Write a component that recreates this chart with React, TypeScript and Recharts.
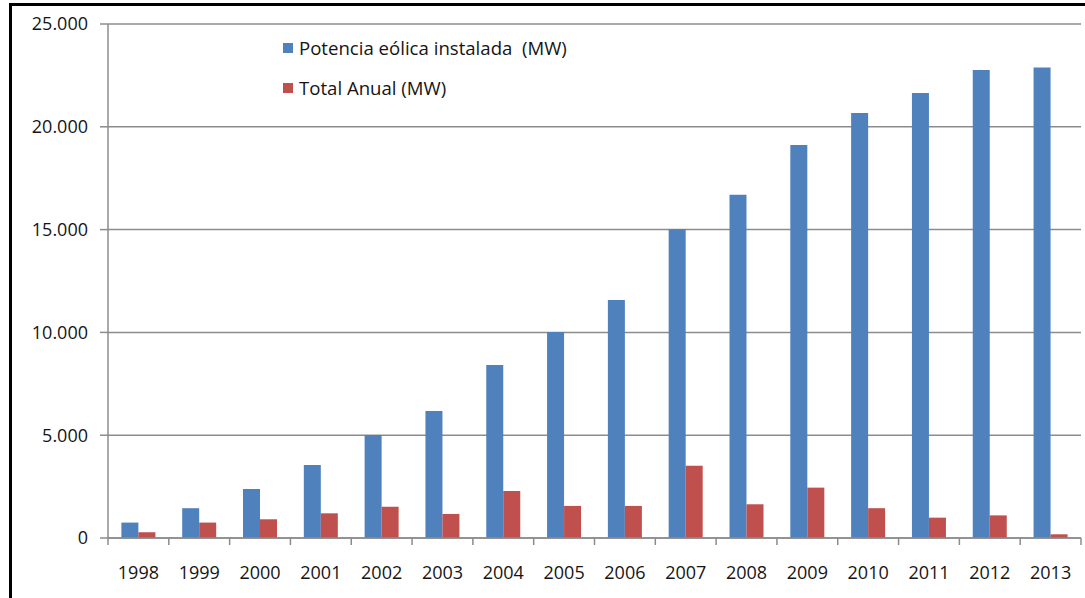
import React from 'react';
import { Bar, BarChart, CartesianGrid, Legend, XAxis, YAxis } from 'recharts';

// Años y valores (MW)
const YEARS = ['1998', '1999', '2000', '2001', '2002', '2003', '2004', '2005', '2006', '2007', '2008', '2009', '2010', '2011', '2012', '2013'];
const POTENCIA = [750, 1450, 2380, 3550, 5010, 6180, 8410, 10020, 11580, 15020, 16690, 19120, 20670, 21650, 22760, 22890];
const TOTAL_ANUAL = [280, 750, 910, 1200, 1520, 1170, 2290, 1560, 1560, 3520, 1640, 2450, 1450, 990, 1100, 180];
const Y_TICKS = [0, 5000, 10000, 15000, 20000, 25000];

const BLUE = '#4F81BD';
const RED = '#C0504D';
const FONT = '"Open Sans", sans-serif';
const TEXT = '#151515';

const data = YEARS.map((year, i) => ({
  year,
  potencia: POTENCIA[i],
  total: TOTAL_ANUAL[i],
}));

const formatThousands = (v: number) => String(v).replace(/\B(?=(\d{3})+(?!\d))/g, '.');

// Excel-style x ticks: marks at category boundaries, label at the centre
const YearTick = (props: any) => {
  const { x, y, payload, index } = props;
  const half = payload?.offset ?? 973 / 16 / 2;
  return (
    <g>
      <line x1={x - half} x2={x - half} y1={y} y2={y + 7} stroke="#8c8c8c" strokeWidth={1.5} />
      {index === YEARS.length - 1 && (
        <line x1={x + half} x2={x + half} y1={y} y2={y + 7} stroke="#8c8c8c" strokeWidth={1.5} />
      )}
      <text x={x} y={y + 41} textAnchor="middle" fontSize={18} fontFamily={FONT} fill={TEXT}>
        {payload.value}
      </text>
    </g>
  );
};

const LegendBox = () => (
  <div style={{ fontFamily: FONT, fontSize: 18.6, color: TEXT, lineHeight: '40px' }}>
    {[
      { color: BLUE, label: 'Potencia eólica instalada  (MW)' },
      { color: RED, label: 'Total Anual (MW)' },
    ].map((item) => (
      <div key={item.label} style={{ display: 'flex', alignItems: 'center', whiteSpace: 'pre' }}>
        <span style={{ width: 10, height: 10, background: item.color, marginRight: 6, display: 'inline-block' }} />
        {item.label}
      </div>
    ))}
  </div>
);

export default function App() {
  return (
    <div style={{ position: 'absolute', left: 0, top: 0, width: 1085, height: 598, background: '#fff', overflow: 'hidden' }}>
      <div
        style={{
          position: 'absolute',
          left: 9,
          top: 3,
          width: 1085,
          height: 600,
          borderTop: '3px solid #000',
          borderLeft: '3px solid #000',
        }}
      />
      <BarChart
        width={1085}
        height={598}
        data={data}
        margin={{ top: 24, right: 4, left: 8, bottom: 0 }}
        barCategoryGap="22%"
        barGap={0}
      >
        <CartesianGrid vertical={false} stroke="#8c8c8c" strokeWidth={1.5} />
        <XAxis
          dataKey="year"
          height={60}
          tickSize={0}
          tickMargin={0}
          tick={<YearTick />}
          axisLine={{ stroke: '#8c8c8c', strokeWidth: 1.5 }}
          interval={0}
        />
        <YAxis
          width={100}
          domain={[0, 25000]}
          ticks={Y_TICKS}
          tickFormatter={formatThousands}
          tickSize={8}
          tickMargin={12}
          tickLine={{ stroke: '#8c8c8c', strokeWidth: 1.5 }}
          axisLine={{ stroke: '#8c8c8c', strokeWidth: 1.5 }}
          tick={{ fontSize: 18, fontFamily: FONT, fill: TEXT }}
        />
        <Legend
          layout="vertical"
          align="center"
          verticalAlign="middle"
          content={<LegendBox />}
          wrapperStyle={{ top: 28, left: 283, width: 340 }}
        />
        <Bar dataKey="potencia" name="Potencia eólica instalada (MW)" fill={BLUE} isAnimationActive={false} />
        <Bar dataKey="total" name="Total Anual (MW)" fill={RED} isAnimationActive={false} />
      </BarChart>
    </div>
  );
}
